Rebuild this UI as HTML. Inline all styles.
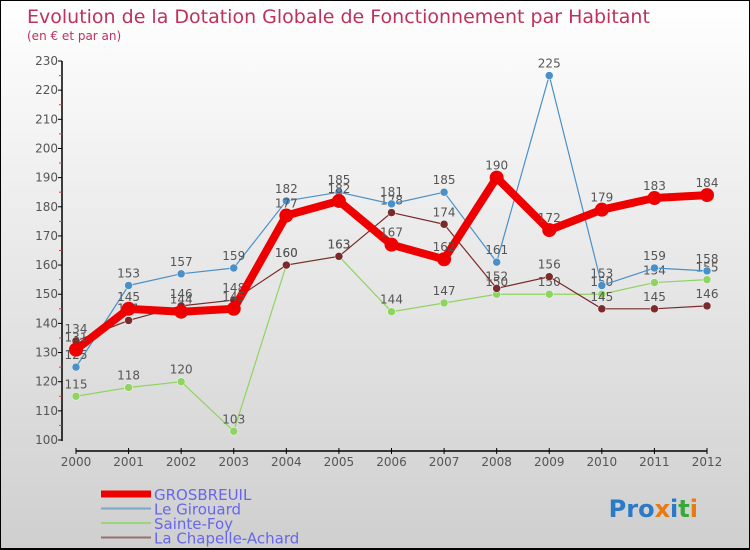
<!DOCTYPE html>
<html><head><meta charset="utf-8"><style>
body{margin:0;}
#c{width:750px;height:550px;position:relative;box-sizing:border-box;border:1px solid #000;border-bottom:2px solid #000;background:linear-gradient(#fff,#cfcfcf);overflow:hidden;font-family:"DejaVu Sans","Liberation Sans",sans-serif;}
</style></head><body>
<div id="c">
<svg id="s" width="750" height="550" style="position:absolute;left:0;top:0">
<text x="26" y="22" font-size="19" fill="#c0305a">Evolution de la Dotation Globale de Fonctionnement par Habitant</text>
<text x="26" y="39" font-size="12" fill="#c0305a">(en € et par an)</text>
<line x1="61" y1="60" x2="61" y2="440" stroke="#000" stroke-width="1.5"/>
<line x1="75" y1="450" x2="706" y2="450" stroke="#000" stroke-width="1.5"/>
<g id="g"></g>
<text x="697" y="516" font-size="24" font-weight="bold" text-anchor="end"><tspan fill="#2a7ac8">Pro</tspan><tspan fill="#e87a10">x</tspan><tspan fill="#2a7ac8">i</tspan><tspan fill="#39a83a">t</tspan><tspan fill="#e87a10">i</tspan></text>
</svg>
</div>
<script>
const years=[2000,2001,2002,2003,2004,2005,2006,2007,2008,2009,2010,2011,2012];
const yTicks=[100,110,120,130,140,150,160,170,180,190,200,210,220,230];
const grosbreuil=[131,145,144,145,177,182,167,162,190,172,179,183,184];
const girouard=[125,153,157,159,182,185,181,185,161,225,153,159,158];
const sainteFoy=[115,118,120,103,160,163,144,147,150,150,150,154,155];
const chapelle=[134,141,146,148,160,163,178,174,152,156,145,145,146];
const X=i=>75+i*(706-75)/(years.length-1);
const Y=v=>439-(v-100)*(439-60)/130;
const NS="http://www.w3.org/2000/svg";
const g=document.getElementById('g');
function mk(t,a){const e=document.createElementNS(NS,t);for(const k in a)e.setAttribute(k,a[k]);g.appendChild(e);return e;}
yTicks.forEach(v=>{
 const t=mk('text',{x:57,y:Y(v)+4,'font-size':12,fill:'#555','text-anchor':'end'});t.textContent=v;
 
 
 const l=mk('line',{x1:57,x2:61,y1:Y(v),y2:Y(v),stroke:'#000'});
 
 
 if(v<230){const m=mk('line',{x1:58,x2:61,y1:Y(v+5),y2:Y(v+5),stroke:'#e33'});
 
 }
});
years.forEach((yr,i)=>{
 const t=mk('text',{x:X(i),y:465,'font-size':12,fill:'#555','text-anchor':'middle'});t.textContent=yr;
 
 
 const l=mk('line',{x1:X(i),x2:X(i),y1:447,y2:453,stroke:'#000'});
 
 
});
function series(data,color,w,r,name){
 const p=mk('polyline',{points:data.map((v,i)=>X(i)+','+Y(v)).join(' '),fill:'none',stroke:color,'stroke-width':w,'stroke-linejoin':'round'});
 
 
 data.forEach((v,i)=>{
  const c=mk('circle',{cx:X(i),cy:Y(v),r:r,fill:color,stroke:w>3?'none':'#fff','stroke-width':0.5});
  
  
  const t=mk('text',{x:X(i),y:Y(v)-8,'font-size':12,fill:'#555','text-anchor':'middle'});t.textContent=v;
  
  
 });
}
series(sainteFoy,'#8fd460',1.2,4,'sainte-foy');
series(chapelle,'#7a2a2a',1.2,4,'la-chapelle-achard');
series(girouard,'#4a90c8',1.2,4,'le-girouard');
series(grosbreuil,'#ee0000',8,7,'grosbreuil');
const leg=[['GROSBREUIL','#ee0000',7],['Le Girouard','#7ba7c8',2],['Sainte-Foy','#9ad67a',2],['La Chapelle-Achard','#9a7070',2]];
leg.forEach((l,i)=>{
 const y=493+i*14.5;
 const ln=mk('line',{x1:100,x2:150,y1:y,y2:y,stroke:l[1],'stroke-width':l[2]});
 
 
 const t=mk('text',{x:153,y:y+6,'font-size':15,fill:'#6666ee'});t.textContent=l[0];
 
 
});
</script>
</body></html>
